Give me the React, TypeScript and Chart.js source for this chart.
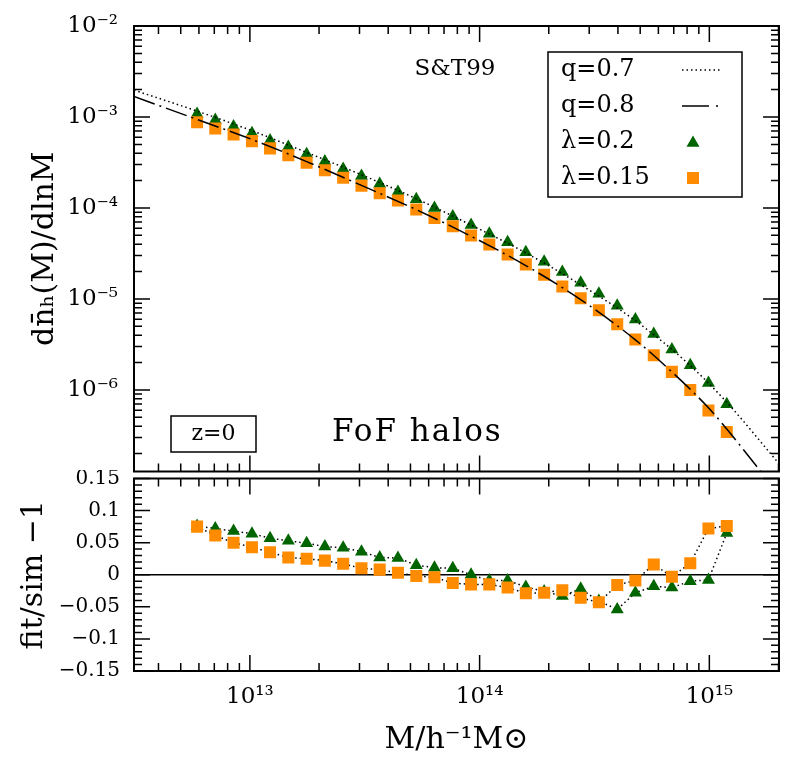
import React, { useEffect, useRef } from 'react';
import { Chart, registerables } from 'chart.js';

Chart.register(...registerables);

// ---------- data ----------
const massBins = [
  5.89e12, 7.07e12, 8.49e12, 1.021e13, 1.224e13, 1.47e13, 1.766e13, 2.12e13, 2.547e13, 3.06e13,
  3.673e13, 4.41e13, 5.30e13, 6.36e13, 7.64e13, 9.18e13, 1.102e14, 1.324e14, 1.589e14, 1.909e14,
  2.291e14, 2.754e14, 3.304e14, 3.972e14, 4.764e14, 5.728e14, 6.87e14, 8.26e14, 9.91e14, 1.191e15,
];
// simulation, lambda = 0.2 (triangles)
const simLambda02 = [
  1.079e-3, 9.27e-4, 7.85e-4, 6.64e-4, 5.52e-4, 4.67e-4, 3.89e-4, 3.24e-4, 2.69e-4, 2.24e-4,
  1.83e-4, 1.5e-4, 1.25e-4, 1.0e-4, 8.07e-5, 6.49e-5, 5.22e-5, 4.2e-5, 3.27e-5, 2.56e-5,
  1.98e-5, 1.51e-5, 1.14e-5, 8.43e-6, 5.93e-6, 4.11e-6, 2.79e-6, 1.87e-6, 1.19e-6, 6.97e-7,
];
// simulation, lambda = 0.15 (squares)
const simLambda015 = [
  8.75e-4, 7.46e-4, 6.42e-4, 5.43e-4, 4.52e-4, 3.79e-4, 3.15e-4, 2.6e-4, 2.15e-4, 1.76e-4,
  1.45e-4, 1.21e-4, 9.61e-5, 7.74e-5, 6.28e-5, 4.97e-5, 3.96e-5, 3.08e-5, 2.4e-5, 1.85e-5,
  1.37e-5, 1.02e-5, 7.5e-6, 5.28e-6, 3.59e-6, 2.4e-6, 1.58e-6, 1.0e-6, 5.95e-7, 3.45e-7,
];
// S&T99 fit, q = 0.7 (dotted)
const fitMassQ07 = [3.13e12, 5.89e12, 1.021e13, 1.766e13, 3.06e13, 5.3e13, 9.18e13, 1.589e14, 2.754e14, 4.764e14, 8.26e14, 1.191e15, 2.01e15];
const fitQ07 = [1.972e-3, 1.161e-3, 7.06e-4, 4.08e-4, 2.317e-4, 1.265e-4, 6.49e-5, 3.21e-5, 1.429e-5, 5.77e-6, 1.854e-6, 7.31e-7, 1.549e-7];
// S&T99 fit, q = 0.8 (dash-dot)
const fitMassQ08 = [3.13e12, 5.89e12, 1.021e13, 1.766e13, 3.06e13, 5.3e13, 9.18e13, 1.589e14, 2.754e14, 4.764e14, 6.87e14, 9.91e14, 1.191e15, 2.01e15];
const fitQ08 = [1.679e-3, 9.4e-4, 5.66e-4, 3.236e-4, 1.77e-4, 9.59e-5, 4.89e-5, 2.328e-5, 9.84e-6, 3.556e-6, 1.578e-6, 6.37e-7, 3.715e-7, 7.08e-8];
// residuals fit/sim - 1
const resLambda02 = [
  0.076, 0.072, 0.068, 0.064, 0.057, 0.053, 0.049, 0.044, 0.042, 0.036,
  0.027, 0.026, 0.015, 0.011, 0.01, 0.0, -0.009, -0.009, -0.019, -0.026,
  -0.033, -0.022, -0.041, -0.054, -0.028, -0.018, -0.02, -0.01, -0.008, 0.065,
];
const resLambda015 = [
  0.075, 0.061, 0.05, 0.043, 0.035, 0.027, 0.025, 0.022, 0.017, 0.01,
  0.008, 0.003, -0.002, -0.004, -0.013, -0.015, -0.015, -0.02, -0.029, -0.028,
  -0.024, -0.036, -0.043, -0.016, -0.009, 0.016, -0.003, 0.018, 0.072, 0.076,
];

const xTickValues = [1e13, 1e14, 1e15];
const xTickLabels = ['10¹³', '10¹⁴', '10¹⁵'];
const yTopTickValues = [1e-2, 1e-3, 1e-4, 1e-5, 1e-6];
const yTopTickLabels = ['10⁻²', '10⁻³', '10⁻⁴', '10⁻⁵', '10⁻⁶'];
const yBotTickValues = [0.15, 0.1, 0.05, 0, -0.05, -0.1, -0.15];
const yBotTickLabels = ['0.15', '0.1', '0.05', '0', '−0.05', '−0.1', '−0.15'];
const legendLabels = ['q=0.7', 'q=0.8', 'λ=0.2', 'λ=0.15'];

const X_MIN = 3.13e12;
const X_MAX = 2.01e15;
const Y_TOP_MIN = 1.27e-7;
const Y_TOP_MAX = 1e-2;

// ---------- styles ----------
const GREEN = '#006400';
const ORANGE = '#ff8c00';
const SERIF = '"DejaVu Serif", serif';
const DOT_DASH = [1.5, 3];
const LONG_DASH = [22, 5, 2, 5];

function logTickList(min: number, max: number) {
  const out: { v: number; major: boolean }[] = [];
  const e0 = Math.floor(Math.log10(min));
  const e1 = Math.ceil(Math.log10(max));
  for (let e = e0; e <= e1; e++) {
    for (let k = 1; k < 10; k++) {
      const v = k * Math.pow(10, e);
      if (v >= min * 0.99999 && v <= max * 1.00001) out.push({ v, major: k === 1 });
    }
  }
  return out;
}

function linTickList() {
  const out: { v: number; major: boolean }[] = [];
  for (let k = -15; k <= 15; k++) out.push({ v: k / 100, major: k % 5 === 0 });
  return out;
}

function drawFrame(chart: any, logY: boolean) {
  const { ctx, chartArea } = chart;
  const { left, right, top, bottom } = chartArea;
  const xs = chart.scales.x;
  const ys = chart.scales.y;
  ctx.save();
  ctx.setLineDash([]);
  ctx.strokeStyle = '#000';
  ctx.lineWidth = 1.5;
  ctx.beginPath();
  for (const t of logTickList(X_MIN, X_MAX)) {
    const px = xs.getPixelForValue(t.v);
    const len = t.major ? 16 : 8;
    ctx.moveTo(px, top);
    ctx.lineTo(px, top + len);
    ctx.moveTo(px, bottom);
    ctx.lineTo(px, bottom - len);
  }
  const yt = logY ? logTickList(ys.min, ys.max) : linTickList();
  for (const t of yt) {
    const py = ys.getPixelForValue(t.v);
    const len = t.major ? 16 : 8;
    ctx.moveTo(left, py);
    ctx.lineTo(left + len, py);
    ctx.moveTo(right, py);
    ctx.lineTo(right - len, py);
  }
  ctx.stroke();
  ctx.lineWidth = 2;
  ctx.strokeRect(left, top, right - left, bottom - top);
  ctx.restore();
}

function drawTriangle(ctx: CanvasRenderingContext2D, x: number, y: number, r: number) {
  ctx.beginPath();
  ctx.moveTo(x, y - r);
  ctx.lineTo(x + r * 0.866, y + r * 0.5);
  ctx.lineTo(x - r * 0.866, y + r * 0.5);
  ctx.closePath();
  ctx.fill();
}

const topPlugin = {
  id: 'topFrame',
  afterDatasetsDraw(chart: any) {
    drawFrame(chart, true);
  },
  afterDraw(chart: any) {
    const ctx: any = chart.ctx;
    ctx.save();
    ctx.fillStyle = '#000';
    ctx.strokeStyle = '#000';
    ctx.textBaseline = 'middle';
    ctx.textAlign = 'center';
    ctx.font = `23px ${SERIF}`;
    ctx.fillText('S&T99', 455, 69);

    // legend
    ctx.lineWidth = 1.5;
    ctx.setLineDash([]);
    ctx.strokeRect(548, 52, 194, 145);
    ctx.textAlign = 'left';
    ctx.font = `24px ${SERIF}`;
    const rows = [70, 106, 142, 178];
    legendLabels.forEach((lab, i) => ctx.fillText(lab, 561, rows[i]));
    // q=0.7 dotted
    ctx.beginPath();
    ctx.setLineDash(DOT_DASH);
    ctx.moveTo(682, rows[0]);
    ctx.lineTo(720, rows[0]);
    ctx.stroke();
    // q=0.8 dash + dot
    ctx.setLineDash([]);
    ctx.beginPath();
    ctx.moveTo(682, rows[1]);
    ctx.lineTo(709, rows[1]);
    ctx.moveTo(716, rows[1]);
    ctx.lineTo(718, rows[1]);
    ctx.stroke();
    // triangle
    ctx.fillStyle = GREEN;
    drawTriangle(ctx, 693, rows[2] + 1, 7.5);
    // square
    ctx.fillStyle = ORANGE;
    ctx.fillRect(687, rows[3] - 6, 12, 12);

    // z=0 box
    ctx.fillStyle = '#000';
    ctx.strokeRect(171, 416, 85, 36);
    ctx.textAlign = 'center';
    ctx.font = `22px ${SERIF}`;
    ctx.fillText('z=0', 213.5, 434);

    ctx.textAlign = 'left';
    ctx.font = `31px ${SERIF}`;
    ctx.letterSpacing = '2px';
    ctx.fillText('FoF halos', 332, 433);
    ctx.restore();
  },
};

const bottomPlugin = {
  id: 'bottomFrame',
  beforeDatasetsDraw(chart: any) {
    const { ctx, chartArea } = chart;
    const py = chart.scales.y.getPixelForValue(0);
    ctx.save();
    ctx.strokeStyle = '#000';
    ctx.lineWidth = 1.5;
    ctx.beginPath();
    ctx.moveTo(chartArea.left, py);
    ctx.lineTo(chartArea.right, py);
    ctx.stroke();
    ctx.restore();
  },
  afterDatasetsDraw(chart: any) {
    drawFrame(chart, false);
  },
};

function pts(xs: number[], ys: number[]) {
  return xs.map((x, i) => ({ x, y: ys[i] }));
}

function findLabel(values: number[], labels: string[], v: number, rel: boolean) {
  const i = values.findIndex((t) => Math.abs(t - v) <= (rel ? Math.abs(t) * 1e-6 : 1e-9));
  return i >= 0 ? labels[i] : '';
}

function fixWidth(s: any) {
  s.width = 134;
  s.paddingTop = 0;
  s.paddingBottom = 0;
}

export default function App() {
  const topRef = useRef<HTMLCanvasElement>(null);
  const botRef = useRef<HTMLCanvasElement>(null);

  useEffect(() => {
    const top = new Chart(topRef.current as HTMLCanvasElement, {
      type: 'line',
      data: {
        datasets: [
          {
            label: 'q=0.7',
            data: pts(fitMassQ07, fitQ07),
            borderColor: '#000',
            borderWidth: 1.5,
            borderDash: DOT_DASH,
            pointRadius: 0,
            cubicInterpolationMode: 'monotone',
            fill: false,
          },
          {
            label: 'q=0.8',
            data: pts(fitMassQ08, fitQ08),
            borderColor: '#000',
            borderWidth: 1.5,
            borderDash: LONG_DASH,
            pointRadius: 0,
            cubicInterpolationMode: 'monotone',
            fill: false,
          },
          {
            label: 'λ=0.15',
            data: pts(massBins, simLambda015),
            showLine: false,
            pointStyle: 'rect',
            pointRadius: 8.5,
            pointBackgroundColor: ORANGE,
            pointBorderColor: ORANGE,
            pointBorderWidth: 0,
          },
          {
            label: 'λ=0.2',
            data: pts(massBins, simLambda02),
            showLine: false,
            pointStyle: 'triangle',
            pointRadius: 7.5,
            pointBackgroundColor: GREEN,
            pointBorderColor: GREEN,
            pointBorderWidth: 0,
          },
        ],
      } as any,
      options: {
        responsive: false,
        animation: false,
        devicePixelRatio: 1,
        events: [],
        layout: { padding: { top: 26, right: 16, bottom: 3, left: 0 } },
        plugins: { legend: { display: false }, tooltip: { enabled: false } },
        scales: {
          x: { type: 'logarithmic', min: X_MIN, max: X_MAX, display: false },
          y: {
            type: 'logarithmic',
            min: Y_TOP_MIN,
            max: Y_TOP_MAX,
            afterFit: fixWidth,
            afterBuildTicks: (s: any) => {
              s.ticks = yTopTickValues.map((v) => ({ value: v }));
            },
            grid: { display: false, drawTicks: false },
            border: { display: false },
            ticks: {
              autoSkip: false,
              color: '#000',
              padding: 16,
              font: { family: SERIF, size: 23 },
              callback: (v: any) => findLabel(yTopTickValues, yTopTickLabels, Number(v), true),
            },
            title: {
              display: true,
              text: 'dn̄ₕ(M)/dlnM',
              color: '#000',
              font: { family: SERIF, size: 30 },
              padding: { top: 27, bottom: 0 },
            },
          },
        },
      } as any,
      plugins: [topPlugin],
    });

    const bot = new Chart(botRef.current as HTMLCanvasElement, {
      type: 'line',
      data: {
        datasets: [
          {
            label: 'λ=0.15',
            data: pts(massBins, resLambda015),
            showLine: true,
            borderColor: '#000',
            borderWidth: 1.5,
            borderDash: DOT_DASH,
            pointStyle: 'rect',
            pointRadius: 8.5,
            pointBackgroundColor: ORANGE,
            pointBorderColor: ORANGE,
            pointBorderWidth: 0,
            fill: false,
          },
          {
            label: 'λ=0.2',
            data: pts(massBins, resLambda02),
            showLine: true,
            borderColor: '#000',
            borderWidth: 1.5,
            borderDash: DOT_DASH,
            pointStyle: 'triangle',
            pointRadius: 7.5,
            pointBackgroundColor: GREEN,
            pointBorderColor: GREEN,
            pointBorderWidth: 0,
            fill: false,
          },
        ],
      } as any,
      options: {
        responsive: false,
        animation: false,
        devicePixelRatio: 1,
        events: [],
        layout: { padding: { top: 7, right: 16, bottom: 0, left: 0 } },
        plugins: { legend: { display: false }, tooltip: { enabled: false } },
        scales: {
          x: {
            type: 'logarithmic',
            min: X_MIN,
            max: X_MAX,
            afterFit: (s: any) => {
              s.height = 104;
              s.paddingLeft = 0;
              s.paddingRight = 0;
            },
            afterBuildTicks: (s: any) => {
              s.ticks = xTickValues.map((v) => ({ value: v }));
            },
            grid: { display: false, drawTicks: false },
            border: { display: false },
            ticks: {
              autoSkip: false,
              maxRotation: 0,
              color: '#000',
              padding: 12,
              font: { family: SERIF, size: 23 },
              callback: (v: any) => findLabel(xTickValues, xTickLabels, Number(v), true),
            },
            title: {
              display: true,
              text: 'M/h⁻¹M⊙',
              color: '#000',
              font: { family: SERIF, size: 30 },
              padding: { top: 0, bottom: 17 },
            },
          },
          y: {
            type: 'linear',
            min: -0.15,
            max: 0.15,
            afterFit: fixWidth,
            afterBuildTicks: (s: any) => {
              s.ticks = yBotTickValues.map((v) => ({ value: v }));
            },
            grid: { display: false, drawTicks: false },
            border: { display: false },
            ticks: {
              autoSkip: false,
              color: '#000',
              padding: 14,
              font: { family: SERIF, size: 20 },
              callback: (v: any) => findLabel(yBotTickValues, yBotTickLabels, Number(v), false),
            },
            title: {
              display: true,
              text: 'fit/sim −1',
              color: '#000',
              font: { family: SERIF, size: 30 },
              padding: { top: 16, bottom: 0 },
            },
          },
        },
      } as any,
      plugins: [bottomPlugin],
    });

    return () => {
      top.destroy();
      bot.destroy();
    };
  }, []);

  return (
    <div style={{ position: 'absolute', left: 0, top: 0, width: 795, height: 775, background: '#fff' }}>
      <canvas
        ref={topRef}
        width={795}
        height={480}
        style={{ position: 'absolute', left: 0, top: 0, width: 795, height: 480 }}
      />
      <canvas
        ref={botRef}
        width={795}
        height={305}
        style={{ position: 'absolute', left: 0, top: 470, width: 795, height: 305 }}
      />
    </div>
  );
}
